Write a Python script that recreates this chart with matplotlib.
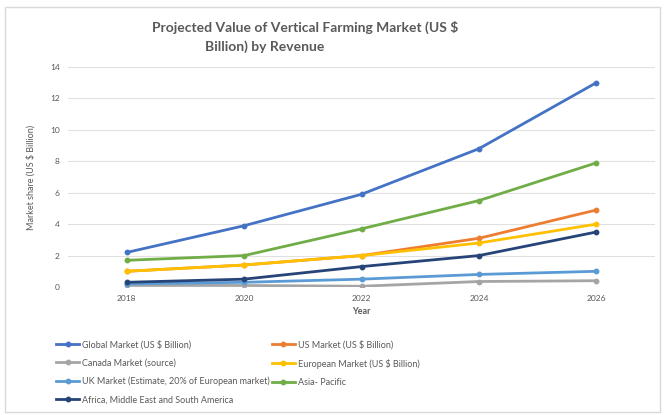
import numpy as np
import matplotlib
matplotlib.use("Agg")
import matplotlib.pyplot as plt
from matplotlib.patches import Rectangle

plt.rcParams['font.family'] = ['Lato', 'DejaVu Sans']

# ---------------- data ----------------
years = ['2018', '2020', '2022', '2024', '2026']
global_mkt = [2.2, 3.9, 5.9, 8.8, 13.0]
us_mkt = [1.0, 1.4, 2.0, 3.1, 4.9]
canada_mkt = [0.1, 0.1, 0.05, 0.35, 0.4]
europe_mkt = [1.0, 1.4, 2.0, 2.8, 4.0]
uk_mkt = [0.2, 0.3, 0.5, 0.8, 1.0]
asia_mkt = [1.7, 2.0, 3.7, 5.5, 7.9]
africa_mkt = [0.3, 0.5, 1.3, 2.0, 3.5]

series = [
    ("Global Market (US \\$ Billion)", global_mkt, '#4472C4'),
    ("US Market (US \\$ Billion)", us_mkt, '#ED7D31'),
    ("Canada Market (source)", canada_mkt, '#A5A5A5'),
    ("European Market (US \\$ Billion)", europe_mkt, '#FFC000'),
    ("UK Market (Estimate, 20% of European market)", uk_mkt, '#5B9BD5'),
    ("Asia- Pacific", asia_mkt, '#70AD47'),
    ("Africa, Middle East and South America", africa_mkt, '#264478'),
]

txt = '#595959'

fig = plt.figure(figsize=(6.65, 4.15), dpi=100)
fig.patches.append(Rectangle((0.008, 0.008), 0.984, 0.975, transform=fig.transFigure,
                             fill=False, edgecolor='#d9d9d9', linewidth=1))
ax = fig.add_axes([0.1023, 0.3084, 0.8827, 0.5302])

x = np.arange(len(years))
handles = []
for name, vals, col in series:
    h, = ax.plot(x, vals, color=col, linewidth=2.0, marker='o', markersize=3.2, label=name)
    handles.append(h)

ax.set_xlim(-0.5, len(years) - 0.5)
ax.set_ylim(0, 14)
ax.set_yticks(np.arange(0, 15, 2))
ax.set_xticks(x)
ax.set_xticklabels(years)
ax.grid(axis='y', color='#e0e0e0', linewidth=0.8)
ax.set_axisbelow(True)
for s in ax.spines.values():
    s.set_visible(False)
ax.tick_params(length=0, labelsize=6, labelcolor=txt, pad=6)

ax.set_xlabel("Year", fontsize=6.5, color=txt, fontweight='bold', labelpad=3)
ax.set_ylabel("Market share (US \\$ Billion)", fontsize=6.5, color=txt, labelpad=10)

# title (two lines, each centred like the original)
fig.text(305 / 665, 1 - 27 / 415, "Projected Value of Vertical Farming Market (US \\$",
         ha='center', va='center', fontsize=10, fontweight='bold', color=txt)
fig.text(265 / 665, 1 - 47 / 415, "Billion) by Revenue",
         ha='center', va='center', fontsize=10, fontweight='bold', color=txt)

# legend ordered row-wise like the original
order = [0, 2, 4, 6, 1, 3, 5]
leg = fig.legend([handles[i] for i in order], [series[i][0] for i in order],
                 loc='upper left', bbox_to_anchor=(56 / 665, 1 - 340 / 415), ncol=2,
                 frameon=False, fontsize=6.5, handlelength=2.6, handletextpad=0.3,
                 columnspacing=0.2, labelspacing=1.02, borderaxespad=0, borderpad=0)
for t in leg.get_texts():
    t.set_color(txt)

fig.savefig("out.png", dpi=100)
